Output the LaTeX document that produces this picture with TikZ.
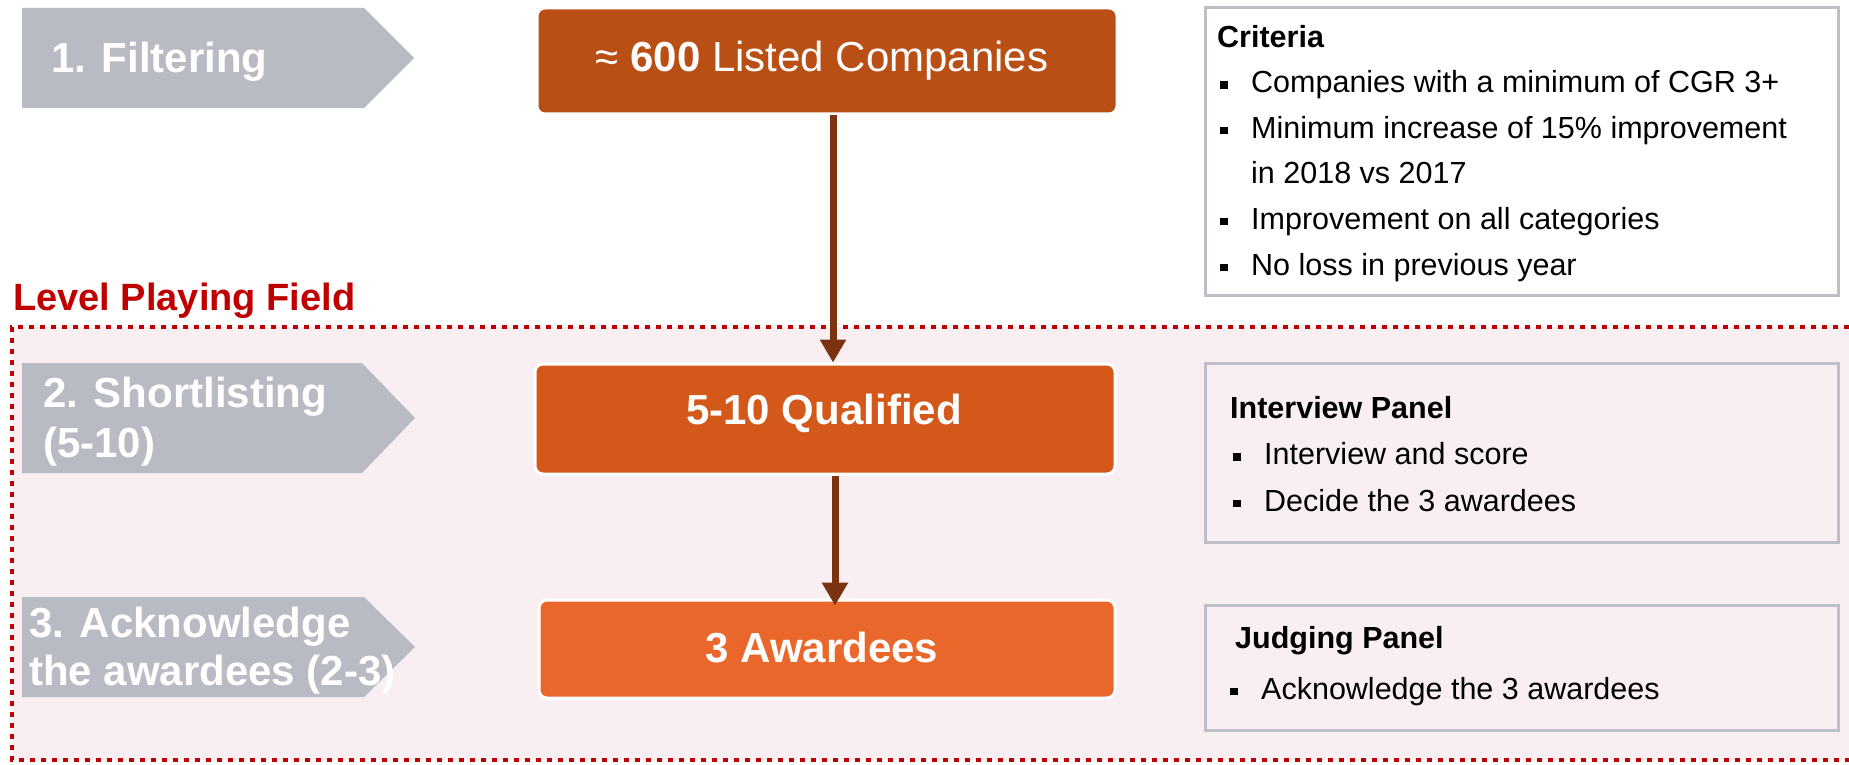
\documentclass[tikz,border=0pt]{standalone}
\usepackage{fontspec}
\setmainfont{Liberation Sans}
\usetikzlibrary{arrows.meta}
\definecolor{grayarrow}{HTML}{B9BBC4}
\definecolor{boxA}{HTML}{BA4F15}
\definecolor{boxB}{HTML}{D45819}
\definecolor{boxC}{HTML}{E9672A}
\definecolor{conn}{HTML}{7B3210}
\definecolor{pinkbg}{HTML}{F9EEF2}
\definecolor{lpfred}{HTML}{C00000}
\definecolor{panelgray}{HTML}{BDBEC6}
\newcommand{\bul}{\makebox[34pt][l]{\hspace{3pt}\rule[4pt]{7.5pt}{7.5pt}}}
\tikzset{
  stagearrow/.style={fill=grayarrow},
  stagetext/.style={anchor=base west, text=white, font=\fontsize{42}{50}\selectfont\bfseries, inner sep=0pt, align=left},
  flowbox/.style={rectangle, rounded corners=8pt, draw=white, line width=3pt, minimum width=580pt, inner sep=0pt},
  flowtext/.style={anchor=base, text=white, font=\fontsize{42}{50}\selectfont, inner sep=0pt},
  panel/.style={rectangle, draw=panelgray, line width=3pt, inner sep=0pt, minimum width=633pt},
  paneltext/.style={anchor=base west, font=\fontsize{30.5}{45.6}\selectfont, inner sep=0pt, align=left},
  conarrow/.style={draw=conn, line width=7pt, -{Triangle[length=23pt,width=25pt]}},
}
\begin{document}
\begin{tikzpicture}[x=1pt,y=-1pt]
\useasboundingbox (0,0) rectangle (1849,765);
\fill[white] (0,0) rectangle (1849,765);
% level playing field region
\fill[pinkbg] (12,327) rectangle (1860,760);
\draw[lpfred, line width=4pt, dash pattern=on 5pt off 6pt] (1860,327) -- (12,327) -- (12,760) -- (1860,760);
\node[anchor=base west, text=lpfred, font=\fontsize{38}{44}\selectfont\bfseries, inner sep=0pt] (lpf) at (13,310) {Level Playing Field};

% stage arrows
\fill[stagearrow] (22,8) -- (364,8) -- (414,58) -- (364,108) -- (22,108) -- cycle;
\fill[stagearrow] (22,363) -- (362,363) -- (415,418) -- (362,473) -- (22,473) -- cycle;
\fill[stagearrow] (22,597) -- (364,597) -- (415,647) -- (364,697) -- (22,697) -- cycle;
\node[stagetext] (s1) at (51,73) {1. Filtering};
\node[stagetext] (s2) at (43,457) {2. Shortlisting\\(5-10)};
\node[stagetext, font=\fontsize{42}{48}\selectfont\bfseries] (s3) at (29,685) {3. Acknowledge\\the awardees (2-3)};

% flow boxes
\node[flowbox, fill=boxA, minimum height=106pt] (b1) at (827,61) {};
\node[flowbox, fill=boxB, minimum height=110pt, minimum width=580pt] (b2) at (825,419) {};
\node[flowbox, fill=boxC, minimum height=98pt, minimum width=576pt] (b3) at (827,649) {};
\node[flowtext] (t1) at (822,72) {≈ \textbf{600} Listed Companies};
\node[flowtext, font=\fontsize{42}{50}\selectfont\bfseries] (t2) at (824,424) {5-10 Qualified};
\node[flowtext, font=\fontsize{42}{50}\selectfont\bfseries] (t3) at (822,662) {3 Awardees};

% connectors
\draw[conarrow] (b1.south -| 833,0) -- (b2.north -| 833,0);
\draw[conarrow] (b2.south -| 835,0) -- ([yshift=-7pt]b3.north -| 835,0);

% panels
\node[panel, fill=white, minimum height=287pt] (crit) at (1521.5,151.5) {};
\node[panel, fill=pinkbg, minimum height=179pt] (intv) at (1521.5,452.5) {};
\node[panel, fill=pinkbg, minimum height=125pt] (judg) at (1521.5,667.5) {};

\node[paneltext] (critt) at (1217,275) {\textbf{Criteria}\\
\bul Companies with a minimum of CGR 3+\\
\bul Minimum increase of 15\% improvement\\
\hphantom{\bul}in 2018 vs 2017\\
\bul Improvement on all categories\\
\bul No loss in previous year};
\node[paneltext, font=\fontsize{30.5}{46.5}\selectfont] (intvt) at (1230,511) {\textbf{Interview Panel}\\
\bul Interview and score\\
\bul Decide the 3 awardees};
\node[paneltext] (judgt) at (1235,648) {\textbf{Judging Panel}};
\node[paneltext] (judgb) at (1227,699) {\bul Acknowledge the 3 awardees};
\end{tikzpicture}
\end{document}
